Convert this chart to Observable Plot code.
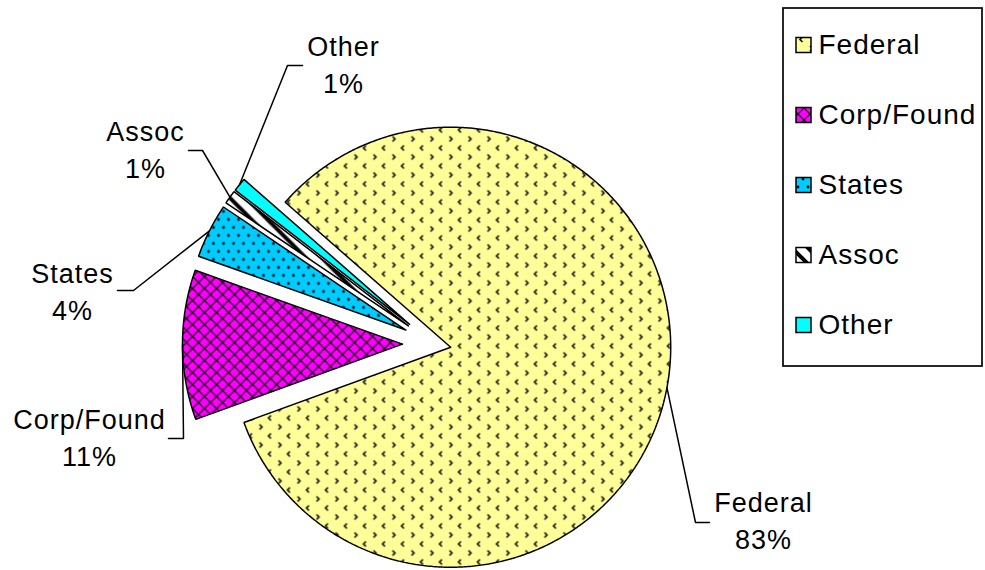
<!DOCTYPE html>
<html><head><meta charset="utf-8">
<script src="https://cdn.jsdelivr.net/npm/d3@7"></script>
<script src="https://cdn.jsdelivr.net/npm/@observablehq/plot@0.6"></script>
<style>
html,body{margin:0;padding:0;background:#fff;}
#chart{width:985px;height:570px;}
</style></head><body><div id="chart"></div>
<script>
// ---- data ----
const categories = ["Federal", "Corp/Found", "States", "Assoc", "Other"];
const shares = [83, 11, 4, 1, 1];
const percentLabels = ["83%", "11%", "4%", "1%", "1%"];

// ---- styles ----
const fills = ["url(#pFed)", "url(#pCorp)", "url(#pStates)", "url(#pAssoc)", "#00FFFF"];

// ---- layout ----
const W = 985, H = 570;
const cx = 433, cy = 343.5, R = 220;
const startDeg = -48.8;
const explode = [17.5, 31, 31, 31, 31];
// label block centre, leader elbow and leader end (layout only)
const labelLayout = [
  {lx: 763, ly: 518, ex: 695, ey: 522, tx: 709},
  {lx: 89,  ly: 435, ex: 183, ey: 438, tx: 168},
  {lx: 72,  ly: 289, ex: 133, ey: 290, tx: 117},
  {lx: 145, ly: 147, ex: 202, ey: 150, tx: 188},
  {lx: 343, ly: 62,  ex: 287, ey: 65,  tx: 302}
];
const legend = {x1: 783, x2: 982, y1: 8, y2: 366, y0: 45, step: 70, sx: 796, ss: 15, tx: 818};
const font = "'Liberation Sans', Arial, sans-serif";

// ---- geometry from data ----
const a0 = startDeg * Math.PI / 180;
const arcs = d3.pie().sort(null).value(d => d).startAngle(a0).endAngle(a0 + 2 * Math.PI)(shares);
const slicePts = [];
const leaderPts = [];
arcs.forEach((a, i) => {
  const mid = (a.startAngle + a.endAngle) / 2;
  const ox = cx + explode[i] * Math.sin(mid), oy = cy - explode[i] * Math.cos(mid);
  const pts = [[ox, oy]];
  const n = Math.max(2, Math.ceil((a.endAngle - a.startAngle) / (0.5 * Math.PI / 180)));
  for (let k = 0; k <= n; k++) {
    const t = a.startAngle + (a.endAngle - a.startAngle) * k / n;
    pts.push([ox + R * Math.sin(t), oy - R * Math.cos(t)]);
  }
  pts.push([ox, oy]);
  pts.forEach(p => slicePts.push({cat: categories[i], x: p[0], y: p[1]}));
  const L = labelLayout[i];
  const sx = ox + R * Math.sin(mid), sy = oy - R * Math.cos(mid);
  [[sx, sy], [L.ex, L.ey], [L.tx, L.ey]].forEach(p => leaderPts.push({cat: categories[i], x: p[0], y: p[1]}));
});

const labels = categories.map((c, i) => ({text: c + "\n" + percentLabels[i], x: labelLayout[i].lx, y: labelLayout[i].ly}));
const legendItems = categories.map((c, i) => ({cat: c, i, y: legend.y0 + i * legend.step}));

const marks = [
  Plot.rect([0], {x1: () => legend.x1, x2: () => legend.x2, y1: () => legend.y1, y2: () => legend.y2, fill: "white", stroke: "#111", strokeWidth: 1.8}),
  ...categories.map((c, i) => Plot.line(slicePts.filter(d => d.cat === c), {x: "x", y: "y", fill: fills[i], stroke: "black", strokeWidth: 1.5, strokeLinejoin: "miter"})),
  Plot.line(leaderPts, {x: "x", y: "y", z: "cat", stroke: "black", strokeWidth: 1.5, strokeLinejoin: "miter"}),
  Plot.text(labels, {x: "x", y: "y", text: "text", fontSize: 27, lineHeight: 1.37, fill: "black", textAnchor: "middle", fontFamily: font}),
  ...legendItems.map(d => Plot.rect([d], {x1: () => legend.sx, x2: () => legend.sx + legend.ss, y1: e => e.y - legend.ss / 2, y2: e => e.y + legend.ss / 2, fill: fills[d.i], stroke: "black", strokeWidth: 1.5})),
  Plot.text(legendItems, {x: () => legend.tx, y: "y", text: "cat", fontSize: 28, textAnchor: "start", fill: "black", fontFamily: font})
];

const chart = Plot.plot({
  width: W, height: H,
  marginTop: 0, marginRight: 0, marginBottom: 0, marginLeft: 0,
  x: {domain: [0, W], range: [0, W], axis: null},
  y: {domain: [0, H], range: [0, H], axis: null},
  style: {background: "white", fontFamily: font, letterSpacing: "1px", color: "#1a1a1a"},
  marks
});

const defs = `
<pattern id="pFed" width="19" height="18" patternUnits="userSpaceOnUse">
  <rect width="19" height="18" fill="#FFFF99"/>
  <path d="M4.5,1 L2,3.5 L4.5,6" stroke="#111" stroke-width="1.7" fill="none"/>
  <path d="M12,10 L14.5,12.5 L12,15" stroke="#111" stroke-width="1.7" fill="none"/>
</pattern>
<pattern id="pCorp" width="12" height="12" patternUnits="userSpaceOnUse">
  <rect width="12" height="12" fill="#FF00FF"/>
  <path d="M-1,-1 L13,13 M13,-1 L-1,13" stroke="#000" stroke-width="1.2"/>
</pattern>
<pattern id="pStates" width="10" height="16" patternUnits="userSpaceOnUse">
  <rect width="10" height="16" fill="#00CCFF"/>
  <circle cx="3" cy="3" r="1.4" fill="#000"/>
  <circle cx="8" cy="11" r="1.4" fill="#000"/>
</pattern>
<pattern id="pAssoc" width="16" height="16" patternUnits="userSpaceOnUse">
  <rect width="16" height="16" fill="#fff"/>
  <path d="M-4,-4 L20,20 M-4,12 L4,20 M12,-4 L20,4" stroke="#000" stroke-width="4"/>
</pattern>`;
const d = document.createElementNS("http://www.w3.org/2000/svg", "defs");
d.innerHTML = defs;
chart.insertBefore(d, chart.firstChild);
document.getElementById("chart").appendChild(chart);
</script>
</body></html>
